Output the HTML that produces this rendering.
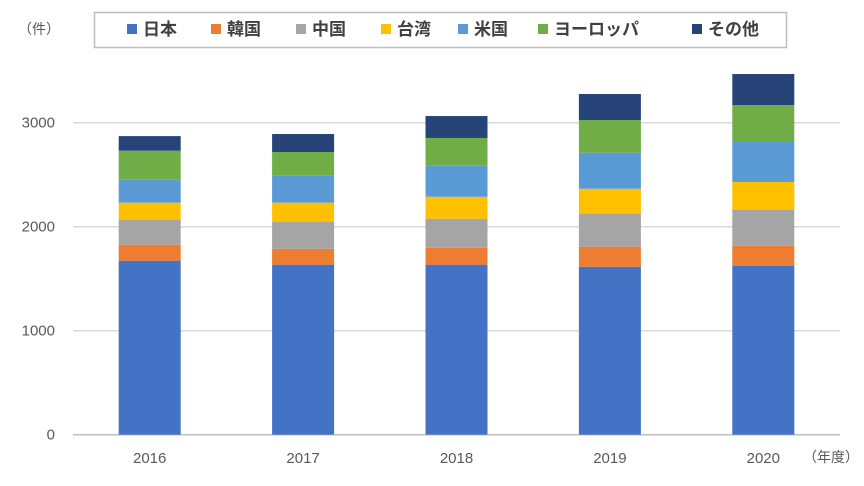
<!DOCTYPE html>
<html><head><meta charset="utf-8"><style>
body{margin:0;background:#fff;}
svg text{font-family:"Liberation Sans","Noto Sans CJK JP",sans-serif;}
</style></head><body>
<svg id="chart" width="864" height="481" xmlns="http://www.w3.org/2000/svg">
<g id="grid"></g><g id="bars"></g><g id="labels"></g>
<text x="18" y="34" font-size="14" fill="#595959">（件）</text>
<text x="803" y="462" font-size="14" fill="#595959">（年度）</text>
<rect x="94.5" y="12.5" width="692" height="35" fill="#fff" stroke="#bfbfbf" stroke-width="1.5"/>
<g id="legend"></g>
</svg>
<script>
const categories=["2016","2017","2018","2019","2020"];
const seriesNames=["日本","韓国","中国","台湾","米国","ヨーロッパ","その他"];
const japan=[1673,1635,1635,1615,1622];
const korea=[154,153,163,193,195];
const china=[237,257,279,314,344];
const taiwan=[167,186,211,243,269];
const usa=[221,259,302,347,394];
const europe=[279,228,263,314,346];
const other=[140,173,211,250,298];
const yTicks=[0,1000,2000,3000];
const colors=["#4472c4","#ed7d31","#a5a5a5","#ffc000","#5b9bd5","#70ad47","#264478"];
const series=[japan,korea,china,taiwan,usa,europe,other];
const NS="http://www.w3.org/2000/svg";
const x0=73,catW=153.4,barW=62,y0=434.7,pxPer=0.104;
const yS=v=>y0-v*pxPer;
const xS=i=>x0+catW*(i+0.5);
function mk(t,a,p){const e=document.createElementNS(NS,t);for(const k in a)e.setAttribute(k,a[k]);p.appendChild(e);return e;}
const grid=document.getElementById('grid'),bars=document.getElementById('bars'),labels=document.getElementById('labels'),legend=document.getElementById('legend');
yTicks.forEach(v=>{
 const l=mk('line',{x1:x0,x2:840,y1:yS(v),y2:yS(v),stroke:v===0?'#bfbfbf':'#d9d9d9','stroke-width':1.5},grid);
 
 
 const t=mk('text',{x:55,y:yS(v)+5,'text-anchor':'end','font-size':15,fill:'#595959'},labels);
 t.textContent=v;
 
 
});
categories.forEach((c,i)=>{
 let acc=0;
 series.forEach((s,j)=>{
  const v=s[i];
  const r=mk('rect',{x:xS(i)-barW/2,y:yS(acc+v),width:barW,height:v*pxPer,fill:colors[j]},bars);
  
  
  acc+=v;
 });
 const t=mk('text',{x:xS(i),y:463,'text-anchor':'middle','font-size':15,fill:'#595959'},labels);
 t.textContent=c;
 
 
});
const legX=[127,211,296,381,458,538,692];
seriesNames.forEach((n,j)=>{
 const r=mk('rect',{x:legX[j],y:24,width:10,height:10,fill:colors[j]},legend);
 
 
 const t=mk('text',{x:legX[j]+16,y:35,'font-size':17,'font-weight':'bold',fill:'#404040'},legend);
 t.textContent=n;
 
 
});
</script>
</body></html>
